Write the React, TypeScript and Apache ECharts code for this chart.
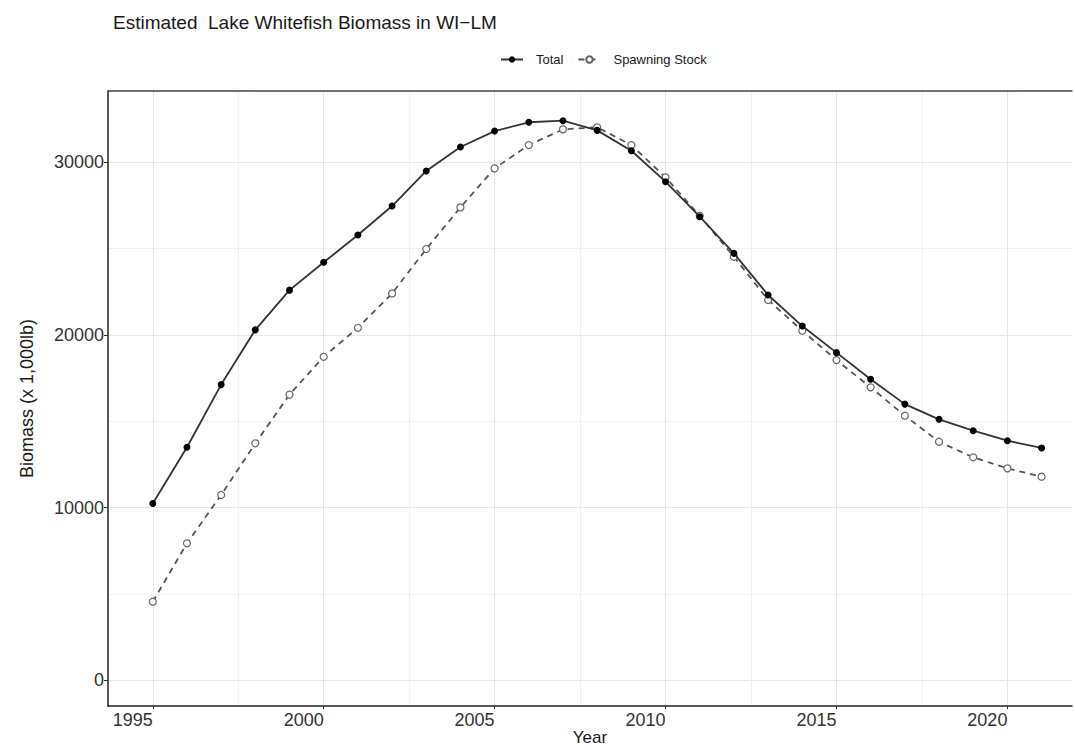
import React, { useEffect, useRef } from "react";
import * as echarts from "echarts";

const years = [1995, 1996, 1997, 1998, 1999, 2000, 2001, 2002, 2003, 2004, 2005, 2006, 2007, 2008, 2009, 2010, 2011, 2012, 2013, 2014, 2015, 2016, 2017, 2018, 2019, 2020, 2021];
const totalBiomass = [10250, 13500, 17130, 20300, 22600, 24210, 25790, 27470, 29500, 30890, 31810, 32320, 32410, 31850, 30670, 28880, 26850, 24730, 22320, 20520, 18980, 17440, 16000, 15120, 14460, 13880, 13460];
const spawningStock = [4560, 7940, 10740, 13730, 16550, 18740, 20420, 22410, 24980, 27390, 29650, 31000, 31910, 32030, 31000, 29130, 26900, 24530, 22030, 20250, 18550, 16970, 15330, 13820, 12920, 12280, 11800];
const xMajorTicks = [1995, 2000, 2005, 2010, 2015, 2020];
const xMinorTicks = [1997.5, 2002.5, 2007.5, 2012.5, 2017.5];
const yMajorTicks = [0, 10000, 20000, 30000];
const yMinorTicks = [5000, 15000, 25000];

const FONT = "'Liberation Sans', Arial, sans-serif";

export default function App() {
  const ref = useRef<HTMLDivElement>(null);
  useEffect(() => {
    if (!ref.current) return;
    const chart = echarts.init(ref.current, undefined, { renderer: "svg" });
    const xMin = 1993.69;
    const xMax = 2021.89;
    const yMin = -1480;
    const yMax = 34130;
    chart.setOption({
      animation: false,
      backgroundColor: "#ffffff",
      textStyle: { fontFamily: FONT },
      title: {
        text: "Estimated  Lake Whitefish Biomass in WI\u2212LM",
        left: 108,
        top: 8,
        textStyle: { fontFamily: FONT, fontSize: 19, fontWeight: "normal", color: "#1a1a1a" },
      },
      legend: {
        left: 495,
        top: 48,
        itemWidth: 22,
        itemHeight: 8,
        itemGap: 14,
        data: ["Total", "Spawning Stock"],
        textStyle: { fontFamily: FONT, fontSize: 13, color: "#1a1a1a", padding: [0, 0, 0, 8] },
      },
      grid: { left: 108, right: 3, top: 91, bottom: 44, containLabel: false, outerBoundsMode: "none" },
      xAxis: [
        {
          type: "value",
          min: xMin,
          max: xMax,
          position: "bottom",
          name: "Year",
          nameLocation: "middle",
          nameGap: 22,
          nameMoveOverlap: false,
          nameTextStyle: { fontFamily: FONT, fontSize: 17, color: "#1a1a1a", verticalAlign: "top", lineHeight: 18 },
          axisLine: { show: true, onZero: false, lineStyle: { color: "#222", width: 1.5 } },
          axisTick: { show: true, length: 3, customValues: xMajorTicks, lineStyle: { color: "#333" } },
          axisLabel: {
            customValues: xMajorTicks,
            fontFamily: FONT,
            fontSize: 18,
            color: "#333",
            align: "right",
            margin: 5,
            formatter: (v: number) => String(v),
          },
          splitLine: { show: true, lineStyle: { color: "#e6e6e6", width: 1 } },
        },
        {
          type: "value",
          min: xMin,
          max: xMax,
          position: "top",
          axisLine: { show: true, onZero: false, lineStyle: { color: "#444", width: 1.5 } },
          axisTick: { show: false, customValues: xMinorTicks },
          axisLabel: { show: false },
          splitLine: { show: true, lineStyle: { color: "#f0f0f0", width: 1 } },
        },
      ],
      yAxis: [
        {
          type: "value",
          min: yMin,
          max: yMax,
          name: "Biomass (x 1,000lb)",
          nameLocation: "middle",
          nameGap: 72,
          nameTextStyle: { fontFamily: FONT, fontSize: 18, color: "#1a1a1a" },
          axisLine: { show: true, onZero: false, lineStyle: { color: "#222", width: 1.5 } },
          axisTick: { show: true, length: 4, customValues: yMajorTicks, lineStyle: { color: "#333" } },
          axisLabel: {
            customValues: yMajorTicks,
            fontFamily: FONT,
            fontSize: 18,
            color: "#333",
            margin: 4,
            formatter: (v: number) => String(v),
          },
          splitLine: { show: true, lineStyle: { color: "#e6e6e6", width: 1 } },
        },
        {
          type: "value",
          min: yMin,
          max: yMax,
          position: "left",
          axisLine: { show: false },
          axisTick: { show: false, customValues: yMinorTicks },
          axisLabel: { show: false },
          splitLine: { show: true, lineStyle: { color: "#f0f0f0", width: 1 } },
        },
      ],
      series: [
        {
          name: "Spawning Stock",
          type: "line",
          xAxisIndex: 0,
          yAxisIndex: 0,
          data: years.map((y, i) => [y, spawningStock[i]]),
          symbol: "circle",
          symbolSize: 7,
          lineStyle: { color: "#555", width: 1.8, type: [6, 5] },
          itemStyle: { color: "#ffffff", borderColor: "#666", borderWidth: 1.2 },
          z: 2,
        },
        {
          name: "Total",
          type: "line",
          xAxisIndex: 0,
          yAxisIndex: 0,
          data: years.map((y, i) => [y, totalBiomass[i]]),
          symbol: "circle",
          symbolSize: 7,
          lineStyle: { color: "#333", width: 1.8 },
          itemStyle: { color: "#000", borderColor: "#000", borderWidth: 0 },
          z: 3,
        },
      ],
    });
    return () => chart.dispose();
  }, []);
  return (
    <div
      ref={ref}
      style={{ position: "fixed", left: 0, top: 0, width: 1075, height: 750, background: "#fff" }}
    />
  );
}
